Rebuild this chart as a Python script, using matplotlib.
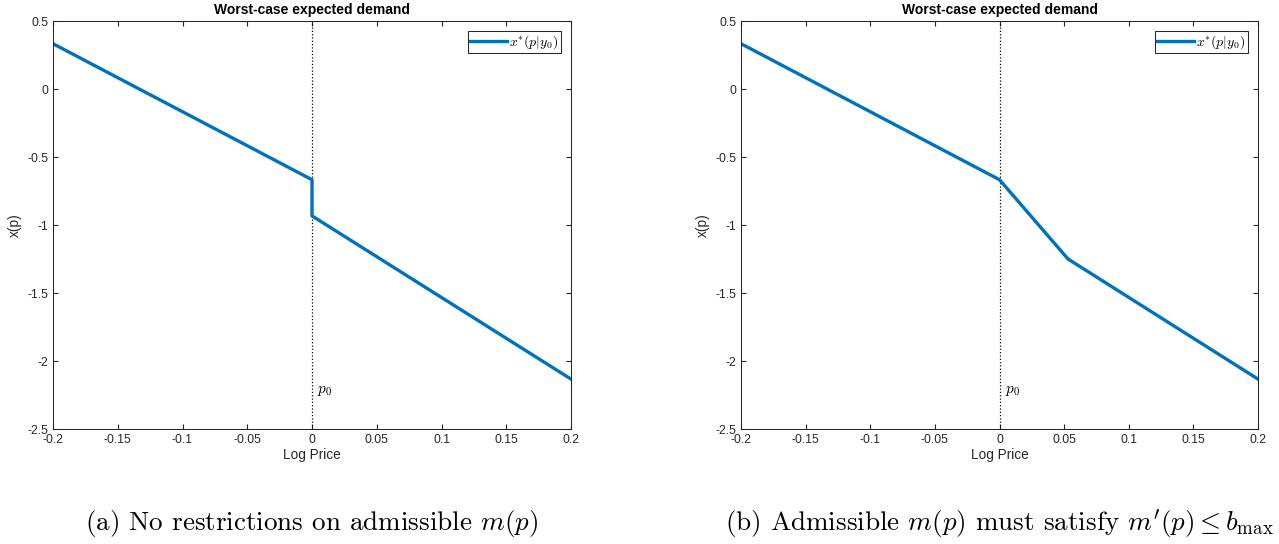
import numpy as np
import matplotlib.pyplot as plt

plt.rcParams['font.family'] = 'Liberation Sans'
plt.rcParams['mathtext.fontset'] = 'cm'

# panel (a): jump at p0
xa = [-0.2, 0.0, 0.0, 0.2]
ya = [0.333, -0.667, -0.933, -2.133]
# panel (b): kink instead of jump
xb = [-0.2, 0.0, 0.053, 0.2]
yb = [0.333, -0.667, -1.25, -2.133]

xticks = [-0.2, -0.15, -0.1, -0.05, 0, 0.05, 0.1, 0.15, 0.2]
xticklabels = ['-0.2', '-0.15', '-0.1', '-0.05', '0', '0.05', '0.1', '0.15', '0.2']
yticks = [-2.5, -2, -1.5, -1, -0.5, 0, 0.5]
yticklabels = ['-2.5', '-2', '-1.5', '-1', '-0.5', '0', '0.5']

captions = ['(a) No restrictions on admissible $m(p)$',
            "(b) Admissible $m(p)$ must satisfy $m'(p) \\leq b_{\\max}$"]

fig = plt.figure(figsize=(12.79, 5.44), dpi=100)
W, H = 1279, 544
boxes = [(53, 21, 571, 429), (741, 21, 1258, 429)]

for (x0, y0, x1, y1), xs, ys, cap in zip(boxes, [xa, xb], [ya, yb], captions):
    ax = fig.add_axes([x0 / W, 1 - y1 / H, (x1 - x0) / W, (y1 - y0) / H])
    ax.axvline(0, color='k', linestyle=':', linewidth=0.9)
    ax.plot(xs, ys, color='#0072BD', linewidth=2.4, label=r'$x^{*}(p|y_0)$')
    ax.set_xlim(-0.2, 0.2)
    ax.set_ylim(-2.5, 0.5)
    ax.set_xticks(xticks)
    ax.set_xticklabels(xticklabels)
    ax.set_yticks(yticks)
    ax.set_yticklabels(yticklabels)
    ax.tick_params(direction='in', top=True, right=True, labelsize=8.8, length=3.6,
                   color='#262626', labelcolor='#262626')
    ax.tick_params(axis='x', pad=3.5)
    ax.tick_params(axis='y', pad=3.5)
    for s in ax.spines.values():
        s.set_color('#262626')
        s.set_linewidth(0.75)
    ax.set_title('Worst-case expected demand', fontsize=10, fontweight='bold', pad=5)
    ax.set_xlabel('Log Price', fontsize=9.8, labelpad=1.5, color='#262626')
    ax.set_ylabel('x(p)', fontsize=9.8, labelpad=4, color='#262626')
    ax.text(0.004, -2.22, r'$p_0$', fontsize=11, va='center', ha='left')
    leg = ax.legend(loc='upper right', fontsize=10, fancybox=False, framealpha=1,
                    edgecolor='#262626', handlelength=2.7, handletextpad=0.15,
                    borderpad=0.15, borderaxespad=0.75)
    leg.get_frame().set_linewidth(0.75)
    fig.text((x0 + x1) / 2 / W, 1 - 530 / H, cap, fontsize=19.5, ha='center', va='baseline',
             family='cmr10', math_fontfamily='cm')

fig.savefig('out.png', dpi=100)
